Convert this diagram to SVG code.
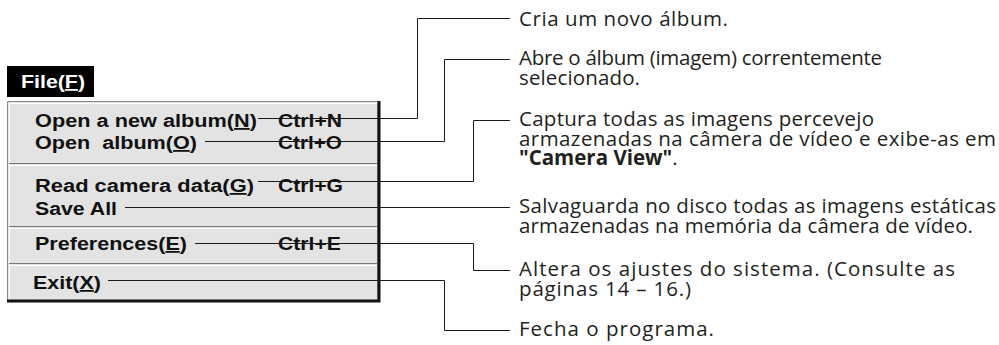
<svg xmlns="http://www.w3.org/2000/svg" width="999" height="345" viewBox="0 0 999 345">
<style>
.m{font-family:"Liberation Sans",Arial,sans-serif;font-weight:bold;font-size:18px;fill:#111}
.u{text-decoration:underline}
.d{font-family:"Open Sans","Noto Sans",sans-serif;font-size:20.5px;fill:#231f20}
.b{font-weight:bold}
.lead{fill:none;stroke:#1a1a1a;stroke-width:1}
</style>
<rect width="999" height="345" fill="#fff"/>
<g id="menu-title">
<rect x="7" y="66" width="87" height="31" fill="#000"/>
<text class="m" x="21" y="88" style="fill:#fff" textLength="64" lengthAdjust="spacingAndGlyphs">File(<tspan class="u">F</tspan>)</text>
</g>
<g id="menu-box">
<rect x="7" y="101" width="373" height="200" fill="#e3e3e3"/>
<path d="M7.5,301 V101.5 H380" fill="none" stroke="#888" stroke-width="1"/>
<path d="M9.5,300 V103.5 H377" fill="none" stroke="#fff" stroke-width="1"/>
<path d="M377.5,103 V299" fill="none" stroke="#999" stroke-width="1"/>
<path d="M379,101 V301 H7" fill="none" stroke="#111" stroke-width="3"/>
<path d="M9,163.5 H377 M9,226.5 H377 M9,263.5 H377" stroke="#777" stroke-width="1.2"/>
<path d="M9,165.5 H377 M9,228.5 H377 M9,265.5 H377" stroke="#fff" stroke-width="1.2"/>
</g>
<g id="item-new">
<text class="m" x="35" y="127" textLength="222" lengthAdjust="spacingAndGlyphs">Open a new album(<tspan class="u">N</tspan>)</text>
<text class="m" x="278" y="127" textLength="64" lengthAdjust="spacingAndGlyphs">Ctrl+N</text>
</g>
<g id="item-open">
<text class="m" x="35" y="149" xml:space="preserve" textLength="162" lengthAdjust="spacingAndGlyphs">Open  album(<tspan class="u">O</tspan>)</text>
<text class="m" x="278" y="149" textLength="64" lengthAdjust="spacingAndGlyphs">Ctrl+O</text>
</g>
<g id="item-read">
<text class="m" x="35" y="192" textLength="219" lengthAdjust="spacingAndGlyphs">Read camera data(<tspan class="u">G</tspan>)</text>
<text class="m" x="278" y="192" textLength="65" lengthAdjust="spacingAndGlyphs">Ctrl+G</text>
</g>
<g id="item-save">
<text class="m" x="35" y="215" textLength="82" lengthAdjust="spacingAndGlyphs">Save All</text>
</g>
<g id="item-pref">
<text class="m" x="35" y="250" textLength="152" lengthAdjust="spacingAndGlyphs">Preferences(<tspan class="u">E</tspan>)</text>
<text class="m" x="278" y="250" textLength="63" lengthAdjust="spacingAndGlyphs">Ctrl+E</text>
</g>
<g id="item-exit">
<text class="m" x="33" y="289" textLength="68" lengthAdjust="spacingAndGlyphs">Exit(<tspan class="u">X</tspan>)</text>
</g>
<g id="connectors">
<path class="lead" d="M258,118.5 H417.5 V18.5 H510"/>
<path class="lead" d="M205,141.5 H444.5 V59.5 H510"/>
<path class="lead" d="M258,181.5 H473.5 V120.5 H510"/>
<path class="lead" d="M125,207.5 H510"/>
<path class="lead" d="M195,243.5 H473.5 V270.5 H510"/>
<path class="lead" d="M108,280.5 H444.5 V330.5 H510"/>
</g>
<g id="desc-new"><text class="d" x="519" y="26" textLength="209">Cria um novo álbum.</text></g>
<g id="desc-open"><text class="d" x="519" y="65" textLength="363">Abre o álbum (imagem) correntemente</text><text class="d" x="519" y="85" textLength="121">selecionado.</text></g>
<g id="desc-read"><text class="d" x="519" y="126" textLength="355">Captura todas as imagens percevejo</text><text class="d" x="519" y="145.5" textLength="477">armazenadas na câmera de vídeo e exibe-as em</text><text class="d" x="519" y="165"><tspan class="b">"Camera View"</tspan>.</text></g>
<g id="desc-save"><text class="d" x="519" y="213" textLength="477">Salvaguarda no disco todas as imagens estáticas</text><text class="d" x="519" y="232.5" textLength="454">armazenadas na memória da câmera de vídeo.</text></g>
<g id="desc-pref"><text class="d" x="519" y="276" textLength="436">Altera os ajustes do sistema. (Consulte as</text><text class="d" x="519" y="295.5" textLength="172">páginas 14 – 16.)</text></g>
<g id="desc-exit"><text class="d" x="519" y="336" textLength="195">Fecha o programa.</text></g>
</svg>
